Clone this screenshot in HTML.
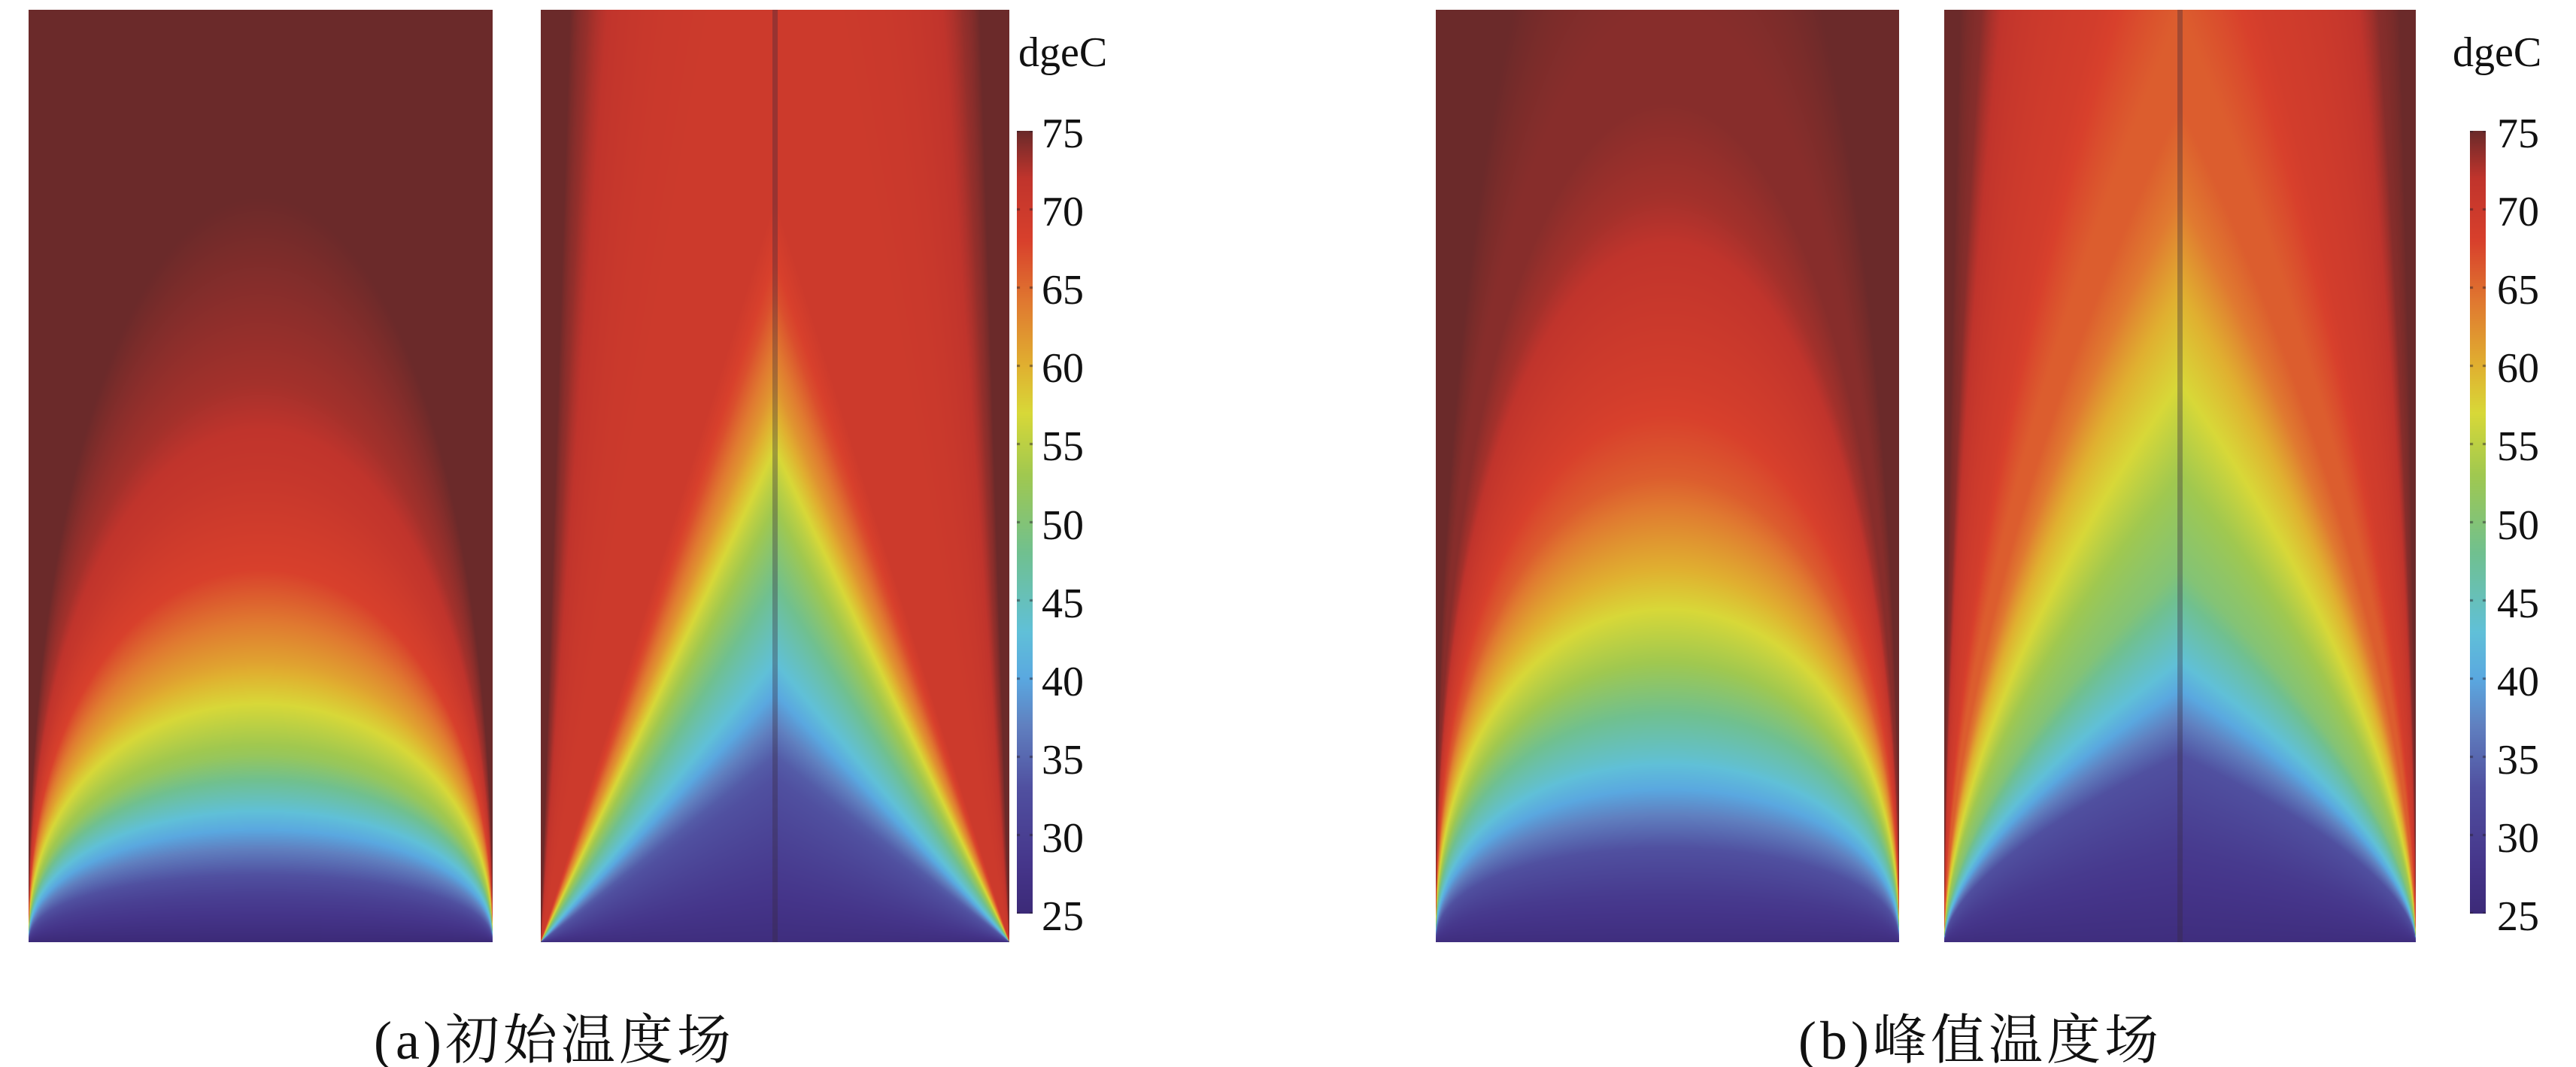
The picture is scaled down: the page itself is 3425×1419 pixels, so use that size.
<!DOCTYPE html>
<html><head><meta charset="utf-8">
<style>
html,body{margin:0;padding:0;background:#fff;}
#root{position:relative;width:3425px;height:1419px;overflow:hidden;background:#fff;font-family:"Liberation Serif","Noto Serif CJK SC",serif;color:#111;}
canvas{position:absolute;}
.lbl{position:absolute;font-size:56px;line-height:1;}
.cap{position:absolute;font-size:72px;line-height:1;white-space:nowrap;letter-spacing:5px;}
.cline{position:absolute;width:7px;background:rgba(55,40,60,0.35);}
</style></head>
<body>
<div id="root">
  <canvas id="a1" style="left:38px;top:13px" width="617" height="1240"></canvas>
  <canvas id="a2" style="left:719px;top:13px" width="623" height="1240"></canvas>
  <canvas id="b1" style="left:1909px;top:13px" width="616" height="1240"></canvas>
  <canvas id="b2" style="left:2585px;top:13px" width="627" height="1240"></canvas>
  <div class="cline" style="left:1027px;top:13px;height:1240px"></div>
  <div class="cline" style="left:2895px;top:13px;height:1240px"></div>
  <canvas id="cb1" style="left:1352px;top:174px" width="21" height="1041"></canvas>
  <canvas id="cb2" style="left:3284px;top:174px" width="21" height="1041"></canvas>
  <div class="lbl" style="left:1354px;top:42px">dgeC</div>
  <div class="lbl" style="left:3261px;top:42px">dgeC</div>
  <div id="ticks"></div>
  <div class="cap" style="left:497px;top:1348px">(a)初始温度场</div>
  <div class="cap" style="left:2391px;top:1348px">(b)峰值温度场</div>
</div>
<script>
// colormap data
const cbVals = [25, 28, 33, 37, 40, 43, 48, 53, 57, 60, 64, 68, 72, 75];
const cbColors = ["#3c2a78","#45358a","#5050a0","#6080c0","#5aa8e0","#60c0d8","#70c090","#a0c850","#d8d838","#e0b030","#e07a30","#d8402c","#c0342c","#6b2a2a"];
const tickLabels = [25, 30, 35, 40, 45, 50, 55, 60, 65, 70, 75];
// arch-height profile data (height from bottom, fraction of panel)
const heights = [0, 0.05, 0.1, 0.2, 0.3, 0.4, 0.5, 0.6, 0.7, 0.8, 0.9, 1.0, 1.3, 2, 3, 5, 8];
const tempA1 = [25, 30, 37, 52, 61, 68, 71, 73, 74, 75, 75, 75, 75, 75, 75, 75, 75];
const tempA2 = [26, 28, 30, 34, 43, 49, 55, 62, 67, 70, 70, 70, 70, 70.5, 71.5, 73.5, 75];
const tempB1 = [26, 29, 33, 44, 53, 60, 66, 69, 71, 73, 74, 74, 75, 75, 75, 75, 75];
const tempB2 = [26, 27.5, 29, 33, 43, 50, 53, 57, 60, 64, 66, 66, 69, 71, 74, 75, 75];

function hex(c){return [parseInt(c.substr(1,2),16),parseInt(c.substr(3,2),16),parseInt(c.substr(5,2),16)];}
const rgbStops = cbColors.map(hex);
function cmap(v){
  if(v<=cbVals[0]) return rgbStops[0];
  for(let i=1;i<cbVals.length;i++){
    if(v<=cbVals[i]){const t=(v-cbVals[i-1])/(cbVals[i]-cbVals[i-1]);const a=rgbStops[i-1],b=rgbStops[i];
      return [a[0]+(b[0]-a[0])*t,a[1]+(b[1]-a[1])*t,a[2]+(b[2]-a[2])*t];}
  }
  return rgbStops[rgbStops.length-1];
}
function profile(temps,h){
  if(h<=heights[0]) return temps[0];
  for(let i=1;i<heights.length;i++){
    if(h<=heights[i]){const t=(h-heights[i-1])/(heights[i]-heights[i-1]);return temps[i-1]+(temps[i]-temps[i-1])*t;}
  }
  return temps[temps.length-1];
}
function drawField(id,temps,shape,p){
  const c=document.getElementById(id),ctx=c.getContext('2d'),W=c.width,H=c.height;
  const img=ctx.createImageData(W,H),d=img.data;
  for(let y=0;y<H;y++){
    const yu=(H-1-y)/(H-1);
    for(let x=0;x<W;x++){
      const u=Math.min(0.9999,Math.abs((x+0.5)/W-0.5)/0.5);
      const den=shape==='arch'?Math.pow(1-u*u,p):Math.pow(1-u,p);
      const h=yu/Math.max(den,1e-4);
      const col=cmap(profile(temps,h));
      const k=(y*W+x)*4;d[k]=col[0];d[k+1]=col[1];d[k+2]=col[2];d[k+3]=255;
    }
  }
  ctx.putImageData(img,0,0);
}
drawField('a1',tempA1,'arch',0.45);
drawField('a2',tempA2,'tri',1.0);
drawField('b1',tempB1,'arch',0.45);
drawField('b2',tempB2,'tri',0.6);
function drawBar(id){
  const c=document.getElementById(id),ctx=c.getContext('2d');
  for(let y=0;y<c.height;y++){
    const v=75-50*y/(c.height-1);const col=cmap(v);
    ctx.fillStyle='rgb('+col.map(Math.round).join(',')+')';ctx.fillRect(0,y,c.width,1);
  }
  ctx.fillStyle='rgba(40,30,40,0.5)';
  tickLabels.forEach(v=>{const y=Math.round((75-v)/50*(c.height-1));ctx.fillRect(0,y-1,4,3);ctx.fillRect(c.width-4,y-1,4,3);});
}
drawBar('cb1');drawBar('cb2');
const ticks=document.getElementById('ticks');
[[1385],[3320]].forEach((pos,bi)=>{
  tickLabels.forEach(v=>{
    const el=document.createElement('div');
    el.className='lbl';
    
    
    const y=174+(75-v)/50*1041;
    el.style.left=pos[0]+'px';el.style.top=(y-24)+'px';
    el.textContent=v;
    ticks.appendChild(el);
  });
});
</script>
</body></html>
